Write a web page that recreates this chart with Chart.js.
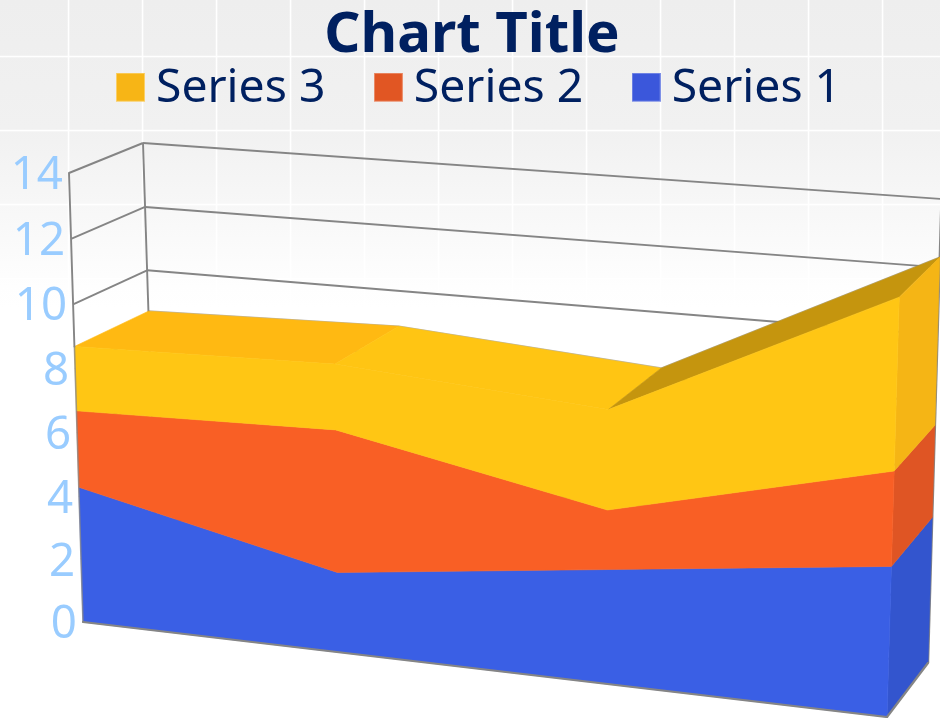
<!DOCTYPE html>
<html>
<head>
<meta charset="utf-8">
<style>html,body{margin:0;padding:0;background:#fff}canvas{display:block}</style>
<script src="https://cdn.jsdelivr.net/npm/chart.js@4"></script>
</head>
<body>
<canvas id="c" width="940" height="718"></canvas>
<script>
const categories = ['Category 1', 'Category 2', 'Category 3', 'Category 4'];
const series1 = [4.3, 2.5, 3.5, 4.5];
const series2 = [2.4, 4.4, 1.8, 2.8];
const series3 = [2, 2, 3, 5];
const seriesNames = ['Series 1', 'Series 2', 'Series 3'];
const yTicksMax = 14, yTicksStep = 2;

const frontColors = ['#3A5FE5', '#F95F25', '#FFC614'];
const sideColors = ['#3355CE', '#DF5524', '#F5B515'];
const legendColors = ['#3B57DB', '#E15623', '#F7B516'];
const topColors = ['#FFB912', '#FFC513', '#C5950E'];
const edgeColor = '#858585';

/* corners of the front and back planes: [u0v0, u1v0, u1v1, u0v1] */
const frontPlane = [[83,622],[887,717],[901,237],[69,173]];
const backPlane  = [[157,578],[928,663],[941.5,199],[143,143]];

function homography(q) {
  const [[x0,y0],[x1,y1],[x2,y2],[x3,y3]] = q;
  const dx1=x1-x2, dx2=x3-x2, sx=x0-x1+x2-x3, dy1=y1-y2, dy2=y3-y2, sy=y0-y1+y2-y3;
  const den=dx1*dy2-dx2*dy1, g=(sx*dy2-dx2*sy)/den, h=(dx1*sy-sx*dy1)/den;
  return {a:x1-x0+g*x1,b:x3-x0+h*x3,c:x0,d:y1-y0+g*y1,e:y3-y0+h*y3,f:y0,g,h};
}
const HF = homography(frontPlane), HB = homography(backPlane);
function map(H,u,v){const w=H.g*u+H.h*v+1;return {x:(H.a*u+H.b*v+H.c)/w,y:(H.d*u+H.e*v+H.f)/w};}

function swatch(color){
  const c=document.createElement('canvas');c.width=29;c.height=33;
  const x=c.getContext('2d');x.fillStyle=color;x.fillRect(0,0,29,29);
  x.strokeStyle='rgba(255,255,255,0.35)';x.lineWidth=1;x.strokeRect(.5,.5,28,28);
  return c;
}

function poly(ctx,pts,fill){
  ctx.beginPath();pts.forEach((p,i)=>i?ctx.lineTo(p.x,p.y):ctx.moveTo(p.x,p.y));ctx.closePath();
  ctx.fillStyle=fill;ctx.fill();
  ctx.strokeStyle=fill;ctx.lineWidth=0.6;ctx.stroke();
}
function seg(ctx,a,b,color,w){ctx.beginPath();ctx.moveTo(a.x,a.y);ctx.lineTo(b.x,b.y);ctx.strokeStyle=color;ctx.lineWidth=w;ctx.stroke();}

const plugin3d = {
  id:'plugin3d',
  beforeDraw(chart){
    const {ctx,width,height}=chart;
    const g=ctx.createLinearGradient(0,0,0,height);
    g.addColorStop(0,'#eeeeee');g.addColorStop(0.18,'#f1f1f1');g.addColorStop(0.3,'#f8f8f8');g.addColorStop(0.4,'#fefefe');g.addColorStop(0.43,'#ffffff');g.addColorStop(1,'#ffffff');
    ctx.save();ctx.fillStyle=g;ctx.fillRect(0,0,width,height);
    ctx.fillStyle='#fff';
    for(let x=68;x<width;x+=74)ctx.fillRect(x-.25,0,1.6,height);
    for(let y=56;y<height;y+=74)ctx.fillRect(0,y-.25,width,1.6);
    ctx.restore();
    /* slide the native tick labels along the slanted front edge */
    const y=chart.scales.y;
    const items=y.getLabelItems();
    items.forEach((it,i)=>{
      if(it.$moved)return;
      const val=y.ticks[i].value;
      const v=(val-y.min)/(y.max-y.min);
      const p=map(HF,0,v);
      it.options.translation=[p.x-6,p.y+3];
      it.options.textAlign='right';
      it.$moved=true;
    });
  },
  afterLayout(chart){
    const L=chart.legend;
    L.left+=14.6;L.right+=14.6;
    const h=L.bottom-L.top;L.top=5.5;L.bottom=L.top+h;
    chart.titleBlock.left+=2;chart.titleBlock.right+=2;
  },
  afterDatasetsUpdate(chart){
    const ca=chart.chartArea;
    chart.data.datasets.forEach((d,i)=>{
      const meta=chart.getDatasetMeta(i);
      meta.data.forEach(pt=>{
        const u=(pt.x-ca.left)/ca.width, v=(ca.bottom-pt.y)/ca.height;
        const f=map(HF,u,v);
        pt.$back=map(HB,u,v);
        pt.x=f.x;pt.y=f.y;
      });
    });
  },
  beforeDatasetsDraw(chart){
    const {ctx}=chart,y=chart.scales.y;
    ctx.save();ctx.lineJoin='round';
    /* walls */
    y.ticks.forEach(t=>{
      const v=(t.value-y.min)/(y.max-y.min);
      seg(ctx,map(HF,0,v),map(HB,0,v),edgeColor,1.9);
      seg(ctx,map(HB,0,v),map(HB,1,v),edgeColor,1.9);
    });
    seg(ctx,map(HB,0,0),map(HB,0,1),edgeColor,1.9);
    seg(ctx,map(HB,1,0),map(HB,1,1),edgeColor,2.4);

    const metas=[0,1,2].map(i=>chart.getDatasetMeta(i).data);
    const n=metas[0].length;
    /* top facets of the upper series */
    const top=metas[2];
    for(let k=0;k<n-1;k++){
      seg(ctx,top[k].$back,top[k+1].$back,'rgba(130,130,130,0.6)',1.6);
      poly(ctx,[top[k],top[k+1],top[k+1].$back,top[k].$back],topColors[k]);
    }
    /* right side faces */
    metas.forEach((data,i)=>{
      const hi=data[n-1];
      const lo=i?metas[i-1][n-1]:null;
      const a=lo||map(HF,1,0), b=lo?lo.$back:map(HB,1,0);
      poly(ctx,[a,hi,hi.$back,b],sideColors[i]);
    });
    /* front faces */
    metas.forEach((data,i)=>{
      const lower=i?metas[i-1].slice().reverse():[map(HF,1,0),map(HF,0,0)];
      poly(ctx,data.concat(lower),frontColors[i]);
    });
    ctx.restore();
  },
  afterDatasetsDraw(chart){
    const {ctx}=chart;
    ctx.save();ctx.lineCap='round';
    const top=chart.getDatasetMeta(2).data[0];
    seg(ctx,map(HF,0,1),top,edgeColor,1.9);
    seg(ctx,top,map(HF,0,0),'rgba(133,133,133,0.75)',1.6);
    seg(ctx,map(HF,0,0),map(HF,1,0),edgeColor,2.2);
    seg(ctx,map(HF,1,0),map(HB,1,0),edgeColor,2.2);
    ctx.restore();
  }
};

const swatches = legendColors.map(swatch);

new Chart(document.getElementById('c'),{
  type:'line',
  plugins:[plugin3d],
  data:{
    labels:categories,
    datasets:[series1,series2,series3].map((values,i)=>({
      label:seriesNames[i],data:values,
      backgroundColor:legendColors[i],borderColor:frontColors[i],
      borderWidth:0,pointRadius:0,fill:false,tension:0,clip:false
    }))
  },
  options:{
    responsive:false,animation:false,
    layout:{padding:0},
    plugins:{
      tooltip:{enabled:false},
      title:{display:true,text:'Chart Title',color:'#002060',
        font:{family:'"Noto Sans"',size:56.4,weight:'bold',lineHeight:1},padding:{top:8,bottom:0}},
      legend:{display:true,position:'top',
        labels:{
          usePointStyle:true,pointStyleWidth:4.7,padding:60.6,color:'#002060',
          font:{family:'"Noto Sans"',size:46.3},
          generateLabels(chart){
            return seriesNames.map((name,i)=>({text:name,datasetIndex:i,fontColor:'#002060',
              pointStyle:swatches[i],lineWidth:0,hidden:false})).reverse();
          }
        }
      }
    },
    scales:{
      x:{display:false,offset:false},
      y:{stacked:true,min:0,max:yTicksMax,
        afterFit(scale){scale.width=200;},
        grid:{display:false},border:{display:false},
        ticks:{stepSize:yTicksStep,color:'#99CCFF',font:{family:'"Noto Sans"',size:45.7},padding:0}}
    }
  }
});
</script>
</body>
</html>
